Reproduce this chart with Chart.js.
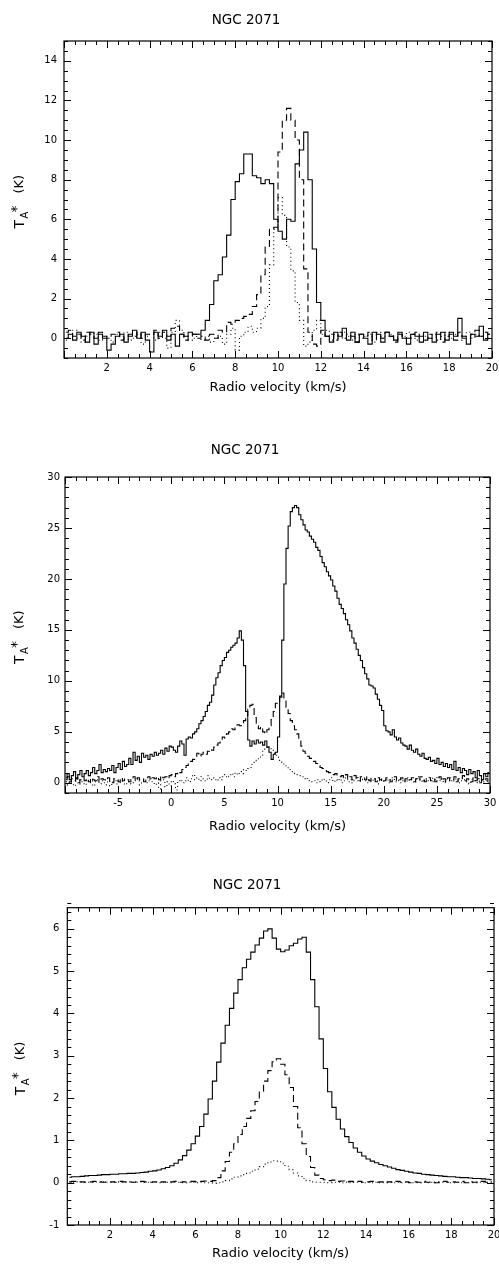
<!DOCTYPE html>
<html>
<head>
<meta charset="utf-8">
<script src="https://cdn.jsdelivr.net/npm/chart.js@4.4.1/dist/chart.umd.min.js"></script>
<style>
  html, body { margin: 0; padding: 0; background: #fff; }
  canvas { display: block; }
</style>
</head>
<body>
<canvas id="panel1" width="499" height="420"></canvas>
<canvas id="panel2" width="499" height="420"></canvas>
<canvas id="panel3" width="499" height="430"></canvas>
<script>
// ---- data ----
// panel 1: channels start at 0.1 km/s, 0.2 km/s wide
const p1Start = 0.1, p1Step = 0.2;
const p1XTicks = [2, 4, 6, 8, 10, 12, 14, 16, 18, 20];
const p1YTicks = [0, 2, 4, 6, 8, 10, 12, 14];
const p1Solid = [
  0.0, 0.2, -0.1, 0.3, 0.1, -0.2, 0.3, -0.3, 0.2, 0.0,
  -0.6, -0.3, 0.1, 0.2, -0.2, 0.1, 0.4, 0.0, 0.3, -0.1,
  -0.7, 0.3, 0.1, 0.4, -0.1, 0.2, -0.4, 0.2, 0.1, 0.3,
  0.2, 0.2, 0.4, 0.9, 1.7, 2.9, 3.2, 4.1, 5.2, 7.0,
  7.9, 8.3, 9.3, 9.3, 8.2, 8.1, 7.8, 8.0, 7.8, 6.0,
  5.4, 5.0, 6.0, 5.9, 8.8, 9.5, 10.4, 8.0, 4.5, 1.8,
  0.9, 0.1, -0.2, 0.3, 0.1, 0.5, -0.1, 0.3, -0.2, 0.2,
  0.0, -0.3, 0.3, 0.2, -0.2, 0.3, 0.1, -0.1, 0.3, 0.0,
  -0.3, 0.2, 0.1, -0.2, 0.3, 0.0, -0.2, 0.2, 0.3, -0.1,
  0.3, 0.1, 1.0, 0.0, -0.3, 0.2, 0.1, 0.6, -0.1, 0.2
];
const p1Dashed = [
  0.3, 0.4, 0.1, 0.2, -0.1, 0.3, 0.2, 0.0, 0.3, 0.1,
  0.0, 0.2, 0.3, -0.1, 0.1, 0.2, 0.1, 0.3, 0.0, 0.2,
  0.2, 0.4, 0.0, 0.3, 0.1, 0.5, 0.6, 0.2, -0.1, 0.1,
  0.2, 0.0, 0.1, -0.1, 0.2, 0.0, 0.4, 0.3, 0.8, 0.7,
  0.9, 1.0, 1.1, 1.2, 1.6, 2.2, 3.2, 4.6, 5.5, 5.6,
  9.4, 11.0, 11.6, 11.0, 10.0, 8.0, 3.5, 0.3, -0.3, -0.4,
  0.4, 0.1, 0.2, -0.1, 0.3, 0.0, 0.2, 0.1, -0.2, 0.2,
  0.1, 0.3, -0.1, 0.2, 0.0, 0.3, 0.1, -0.2, 0.2, 0.1,
  0.0, 0.2, 0.3, 0.1, -0.1, 0.2, 0.0, 0.3, -0.2, 0.1,
  0.2, -0.1, 0.3, 0.1, 0.0, 0.2, 0.4, 0.1, 0.3, 0.2
];
const p1Dotted = [
  -0.1, 0.2, 0.4, 0.0, -0.2, 0.1, 0.3, 0.2, -0.1, 0.1,
  0.0, -0.2, 0.2, 0.1, 0.3, -0.1, 0.0, 0.2, -0.3, 0.1,
  0.2, -0.1, 0.3, 0.0, -0.5, 0.3, 0.9, 0.4, 0.1, -0.1,
  0.0, 0.2, -0.1, 0.1, -0.2, 0.0, 0.1, -0.3, 0.2, 0.5,
  -0.6, 0.1, 0.3, 0.6, 0.3, 0.5, 1.0, 1.6, 3.7, 5.5,
  7.1, 6.2, 4.6, 3.4, 1.8, 0.9, -0.4, -0.2, 0.4, 0.9,
  0.2, 0.4, -0.1, 0.2, 0.0, 0.3, 0.1, -0.1, 0.2, 0.0,
  0.1, 0.2, -0.2, 0.3, 0.0, 0.1, 0.2, -0.1, 0.2, 0.1,
  0.3, 0.0, -0.1, 0.2, 0.1, 0.0, 0.2, -0.1, 0.1, 0.3,
  0.0, 0.2, -0.1, 0.1, 0.3, 0.0, 0.2, 0.1, 0.3, 0.0
];

// panel 2: channels start at -9.9 km/s, 0.2 km/s wide
const p2Start = -9.9, p2Step = 0.2;
const p2XTicks = [-5, 0, 5, 10, 15, 20, 25, 30];
const p2YTicks = [0, 5, 10, 15, 20, 25, 30];
const p2Solid = [
  0.5, 0.9, 0.3, 0.7, 1.1, 0.4, 0.8, 1.2, 0.6, 0.9,
  1.2, 0.7, 1.0, 1.5, 0.9, 1.2, 1.8, 1.0, 1.3, 1.1,
  1.4, 1.2, 1.7, 1.0, 1.5, 1.9, 1.3, 2.1, 1.6, 1.8,
  2.4, 1.8, 3.0, 2.2, 2.6, 2.0, 2.9, 2.5, 2.7, 2.3,
  2.8, 2.6, 3.0, 2.7, 2.9, 3.2, 2.8, 3.4, 3.1, 3.6,
  3.5, 3.2, 3.0, 3.6, 4.1, 3.8, 2.7, 4.3, 4.5, 4.4,
  4.8, 5.0, 5.3, 5.8, 6.1, 6.5, 7.0, 7.6, 7.9, 8.6,
  9.6, 10.3, 10.8, 11.5, 12.0, 12.3, 12.8, 13.0, 13.3, 13.5,
  13.7, 14.2, 14.9, 14.0, 11.5, 7.0, 4.2, 3.6, 4.1, 3.8,
  4.2, 3.9, 4.0, 3.7, 4.1, 3.5, 3.0, 2.3, 2.8, 3.0,
  4.5, 8.5, 14.0, 19.5, 23.0, 25.2, 26.6, 27.0, 27.2, 27.0,
  26.3, 25.8, 25.3, 24.8, 24.6, 24.2, 23.9, 23.6, 23.1, 22.8,
  22.2, 21.6, 21.2, 20.7, 20.3, 19.9, 19.3, 18.8, 18.1, 17.5,
  17.1, 16.6, 16.0, 15.5, 14.9, 14.2, 13.7, 13.1, 12.5, 12.0,
  11.3, 10.7, 10.2, 9.6, 9.5, 9.3, 8.7, 8.2, 7.6, 7.1,
  5.6, 5.1, 5.0, 4.7, 5.2, 4.5, 4.2, 4.4, 3.9, 3.7,
  3.6, 3.3, 3.7, 3.2, 3.0, 3.3, 2.8, 2.6, 2.9, 2.4,
  2.3, 2.5, 2.1, 2.2, 1.9, 2.4, 1.8, 2.0, 1.6, 1.9,
  1.5, 1.8, 1.3, 2.1, 1.2, 1.5, 1.0, 1.4, 1.2, 0.8,
  1.3, 0.9, 1.1, 0.5, 1.2, 0.7, 0.3, 0.9, 0.6, 1.0
];
const p2Dashed = [
  0.3, 0.6, 0.1, 0.4, 0.2, 0.5, 0.0, 0.3, 0.5, 0.2,
  0.4, 0.1, 0.5, 0.3, 0.2, 0.6, 0.1, 0.4, 0.3, 0.2,
  0.5, 0.2, 0.0, 0.4, 0.3, 0.1, 0.5, 0.2, 0.4, 0.3,
  0.1, 0.4, 0.6, 0.2, 0.5, 0.3, 0.4, 0.1, 0.5, 0.6,
  0.3, 0.5, 0.4, 0.6, 0.3, 0.7, 0.5, 0.6, 0.4, 0.7,
  0.8, 0.6, 0.9, 1.1, 1.0, 1.3, 1.5, 1.7, 1.9, 2.1,
  2.3, 2.6, 2.9, 2.6, 2.8, 3.0, 2.8, 3.1, 3.3, 3.2,
  3.5, 3.7, 3.9, 4.1, 4.5, 4.4, 4.8, 5.0, 5.3, 5.2,
  5.5, 5.7, 5.6, 5.9, 6.1, 6.6, 7.2, 7.6, 7.7, 6.4,
  5.6, 5.3, 5.5, 5.0, 4.8, 5.2, 5.6, 6.2, 7.0, 7.8,
  8.0, 8.4, 8.8, 8.2, 7.4, 6.8, 6.1, 5.6, 5.2, 4.8,
  4.1, 3.6, 3.1, 2.9, 2.6, 2.4, 2.2, 2.1, 1.9, 1.7,
  1.5, 1.4, 1.3, 1.1, 1.0, 0.9, 0.8, 0.9, 0.7, 0.6,
  0.7, 0.5, 0.8, 0.4, 0.6, 0.3, 0.7, 0.5, 0.2, 0.6,
  0.4, 0.3, 0.6, 0.2, 0.5, 0.4, 0.1, 0.5, 0.3, 0.4,
  0.2, 0.5, 0.3, 0.1, 0.4, 0.6, 0.2, 0.3, 0.5, 0.1,
  0.4, 0.2, 0.3, 0.5, 0.1, 0.4, 0.2, 0.6, 0.3, 0.1,
  0.3, 0.5, 0.2, 0.4, 0.1, 0.3, 0.6, 0.2, 0.4, 0.1,
  0.5, 0.2, 0.3, 0.6, 0.1, 0.4, 0.3, 0.7, 0.2, 0.4,
  0.3, 0.1, 0.5, 0.2, 0.4, 0.0, 0.3, 0.2, 0.4, 0.1
];
const p2Dotted = [
  0.1, -0.2, 0.3, 0.0, -0.3, 0.2, 0.4, -0.1, 0.1, -0.2,
  0.3, 0.0, 0.2, -0.3, 0.1, 0.3, -0.1, 0.2, 0.0, -0.2,
  0.2, -0.3, 0.1, 0.4, -0.1, 0.2, 0.0, 0.3, -0.2, 0.1,
  0.3, -0.1, 0.0, 0.2, 0.4, -0.2, 0.1, 0.3, 0.0, 0.2,
  0.4, 0.1, -0.2, 0.0, -0.6, 0.2, 0.3, -0.4, 0.1, -0.3,
  0.2, -0.1, -0.7, 0.1, 0.3, 0.0, 0.2, 0.5, 0.1, 0.4,
  0.8, 0.3, 0.5, 0.2, 0.6, 0.4, 0.2, 0.7, 0.3, 0.5,
  0.4, 0.2, 0.5, 0.3, 0.6, 0.8, 0.5, 0.7, 0.9, 0.6,
  1.0, 0.8, 1.1, 0.9, 1.3, 1.2, 1.4, 1.5, 1.8, 2.0,
  2.2, 2.5, 2.7, 3.1, 3.3, 3.6, 3.5, 3.2, 2.9, 2.7,
  2.5, 2.2, 2.0, 1.8, 1.6, 1.4, 1.2, 1.1, 0.9, 0.8,
  0.7, 0.6, 0.4, 0.5, 0.3, 0.2, 0.1, 0.2, 0.0, 0.3,
  0.1, 0.4, 0.2, 0.0, 0.3, 0.5, 0.1, 0.3, 0.2, 0.4,
  0.0, 0.2, 0.5, 0.1, 0.3, 0.0, 0.4, 0.2, 0.1, 0.3,
  0.5, 0.2, 0.0, 0.3, 0.1, 0.4, 0.2, -0.1, 0.3, 0.1,
  0.2, 0.4, 0.0, 0.3, 0.5, 0.1, 0.2, 0.4, 0.0, 0.3,
  0.1, 0.5, 0.2, 0.3, 0.0, 0.4, 0.6, 0.2, 0.1, 0.3,
  0.4, 0.2, 0.5, 0.1, 0.3, 0.6, 0.2, 0.4, 0.0, 0.3,
  0.2, 0.5, 0.1, 0.3, 0.4, 0.0, 0.2, 0.5, 0.1, 0.3,
  -0.1, 0.3, 0.2, 0.4, 0.0, 0.2, 0.3, 0.1, 0.2, 0.0
];

// panel 3: channels start at 0.1 km/s, 0.2 km/s wide
const p3Start = 0.1, p3Step = 0.2;
const p3XTicks = [2, 4, 6, 8, 10, 12, 14, 16, 18, 20];
const p3YTicks = [-1, 0, 1, 2, 3, 4, 5, 6];
const p3Solid = [
  0.13, 0.14, 0.14, 0.15, 0.16, 0.17, 0.17, 0.18, 0.19, 0.19,
  0.20, 0.20, 0.21, 0.21, 0.22, 0.22, 0.23, 0.24, 0.25, 0.27,
  0.28, 0.30, 0.33, 0.36, 0.40, 0.46, 0.54, 0.64, 0.77, 0.92,
  1.10, 1.33, 1.62, 1.98, 2.40, 2.85, 3.30, 3.72, 4.12, 4.48,
  4.80, 5.08, 5.28, 5.45, 5.62, 5.78, 5.95, 6.00, 5.78, 5.52,
  5.46, 5.50, 5.60, 5.66, 5.76, 5.80, 5.45, 4.80, 4.16, 3.40,
  2.70, 2.15, 1.78, 1.50, 1.27, 1.09, 0.95, 0.82, 0.72, 0.63,
  0.56, 0.51, 0.47, 0.43, 0.40, 0.37, 0.34, 0.31, 0.29, 0.27,
  0.25, 0.23, 0.22, 0.20, 0.19, 0.18, 0.17, 0.16, 0.15, 0.14,
  0.14, 0.13, 0.12, 0.12, 0.11, 0.10, 0.10, 0.09, 0.08, 0.07
];
const p3Dashed = [
  0.02, 0.03, 0.02, 0.02, 0.01, 0.02, 0.03, 0.02, 0.01, 0.02,
  0.02, 0.01, 0.03, 0.02, 0.02, 0.01, 0.02, 0.03, 0.02, 0.01,
  0.02, 0.01, 0.02, 0.01, 0.02, 0.03, 0.01, 0.02, 0.02, 0.03,
  0.02, 0.03, 0.04, 0.03, 0.05, 0.12, 0.28, 0.50, 0.72, 0.92,
  1.14, 1.33, 1.52, 1.70, 1.92, 2.16, 2.40, 2.65, 2.86, 2.93,
  2.80, 2.55, 2.25, 1.80, 1.30, 0.92, 0.62, 0.36, 0.18, 0.10,
  0.07, 0.05, 0.06, 0.03, 0.04, 0.02, 0.03, 0.02, 0.03, 0.01,
  0.02, 0.03, 0.01, 0.02, 0.00, 0.02, 0.01, 0.03, 0.01, 0.02,
  0.00, 0.02, 0.01, 0.03, 0.01, 0.02, 0.00, 0.02, 0.03, 0.01,
  0.02, 0.01, 0.03, 0.00, 0.02, 0.01, 0.02, 0.03, 0.01, 0.02
];
const p3Dotted = [
  0.02, 0.01, 0.02, 0.02, 0.01, 0.01, 0.02, 0.01, 0.02, 0.01,
  0.01, 0.02, 0.01, 0.01, 0.02, 0.01, 0.01, 0.02, 0.01, 0.01,
  0.01, 0.00, 0.01, 0.01, 0.00, 0.01, 0.01, 0.00, 0.01, 0.01,
  0.00, 0.01, 0.00, 0.00, -0.01, 0.00, 0.02, 0.05, 0.09, 0.13,
  0.16, 0.19, 0.23, 0.27, 0.32, 0.38, 0.44, 0.49, 0.52, 0.51,
  0.46, 0.39, 0.31, 0.23, 0.16, 0.10, 0.05, 0.02, 0.01, 0.01,
  0.01, 0.00, 0.01, 0.01, 0.00, 0.01, 0.00, 0.01, 0.01, 0.00,
  0.01, 0.00, 0.01, 0.00, 0.01, 0.01, 0.00, 0.01, 0.00, 0.01,
  0.01, 0.00, 0.00, 0.01, 0.00, 0.01, 0.00, 0.00, 0.01, 0.00,
  0.00, 0.01, 0.00, 0.01, 0.00, 0.00, 0.01, 0.00, 0.01, 0.00
];

const FONT = 'DejaVu Sans';

// pair each channel value with its velocity
function toPoints(start, step, values) {
  return values.map((v, i) => ({ x: +(start + i * step).toFixed(3), y: v }));
}

function lineSet(points, dash) {
  return {
    data: points,
    borderColor: '#000',
    borderWidth: 1.1,
    borderDash: dash,
    stepped: 'middle',
    pointRadius: 0,
    fill: false
  };
}

// box round the plot with inward ticks on all four sides (IDL style)
const framePlugin = {
  id: 'frame',
  afterDatasetsDraw(chart, args, opts) {
    const { ctx, chartArea: a } = chart;
    const xs = chart.scales.x, ys = chart.scales.y;
    ctx.save();
    ctx.strokeStyle = '#000';
    ctx.lineWidth = 1.2;
    ctx.strokeRect(a.left, a.top, a.right - a.left, a.bottom - a.top);
    ctx.lineWidth = 1;
    ctx.beginPath();
    let n = Math.round((xs.max - xs.min) / opts.xMinor);
    for (let i = 0; i <= n; i++) {
      const v = xs.min + i * opts.xMinor;
      const big = Math.abs(v / opts.xMajor - Math.round(v / opts.xMajor)) < 1e-6;
      const len = big ? 7 : 4;
      const px = Math.round(xs.getPixelForValue(v)) + 0.5;
      ctx.moveTo(px, a.bottom); ctx.lineTo(px, a.bottom - len);
      ctx.moveTo(px, a.top); ctx.lineTo(px, a.top + len);
    }
    n = Math.round((ys.max - ys.min) / opts.yMinor);
    for (let i = 0; i <= n; i++) {
      const v = ys.min + i * opts.yMinor;
      const big = Math.abs(v / opts.yMajor - Math.round(v / opts.yMajor)) < 1e-6;
      const len = big ? 7 : 4;
      const py = Math.round(ys.getPixelForValue(v)) + 0.5;
      ctx.moveTo(a.left, py); ctx.lineTo(a.left + len, py);
      ctx.moveTo(a.right, py); ctx.lineTo(a.right - len, py);
    }
    ctx.stroke();
    ctx.restore();
  },
  // rotated y title: T with subscript A and a star, then (K)
  afterDraw(chart, args, opts) {
    const { ctx, chartArea: a } = chart;
    ctx.save();
    ctx.translate(opts.labelX, (a.top + a.bottom) / 2);
    ctx.rotate(-Math.PI / 2);
    ctx.fillStyle = '#000';
    ctx.textBaseline = 'middle';
    ctx.textAlign = 'left';
    ctx.font = '14px "' + FONT + '"';
    ctx.fillText('T', -29, 0);
    ctx.font = '10px "' + FONT + '"';
    ctx.fillText('A', -19, 5);
    ctx.font = '14px "' + FONT + '"';
    ctx.fillText('*', -13, -3);
    ctx.font = '13px "' + FONT + '"';
    ctx.fillText('(K)', 6, 0);
    ctx.restore();
  }
};

function makePanel(id, p) {
  new Chart(document.getElementById(id), {
    type: 'line',
    data: {
      datasets: [
        lineSet(toPoints(p.start, p.step, p.solid), []),
        lineSet(toPoints(p.start, p.step, p.dashed), [7, 4]),
        lineSet(toPoints(p.start, p.step, p.dotted), [1, 3])
      ]
    },
    options: {
      responsive: false,
      animation: false,
      devicePixelRatio: 1,
      layout: { padding: { left: 0, right: p.padRight, top: 0, bottom: p.padBottom } },
      plugins: {
        legend: { display: false },
        tooltip: { enabled: false },
        title: {
          display: true,
          text: 'NGC 2071',
          color: '#000',
          font: { family: FONT, size: 13.5, weight: 'normal' },
          padding: { top: p.titleTop, bottom: p.titleBottom }
        },
        frame: { xMinor: p.xMinor, xMajor: p.xMajor, yMinor: p.yMinor, yMajor: p.yMajor, labelX: p.labelX }
      },
      scales: {
        x: {
          type: 'linear',
          min: p.xMin,
          max: p.xMax,
          grid: { display: false, drawTicks: false },
          border: { display: false },
          ticks: { color: '#000', font: { family: FONT, size: 10 }, padding: 4, maxRotation: 0, autoSkip: false },
          afterBuildTicks: s => { s.ticks = p.xTicks.map(v => ({ value: v })); },
          afterFit: s => { s.height = p.xHeight; s.paddingLeft = 0; s.paddingRight = 0; },
          title: {
            display: true,
            text: 'Radio velocity (km/s)',
            color: '#000',
            font: { family: FONT, size: 13 },
            padding: 0
          }
        },
        y: {
          type: 'linear',
          min: p.yMin,
          max: p.yMax,
          grid: { display: false, drawTicks: false },
          border: { display: false },
          ticks: { color: '#000', font: { family: FONT, size: 10 }, padding: p.yPad, autoSkip: false },
          afterBuildTicks: s => { s.ticks = p.yTicks.map(v => ({ value: v })); },
          afterFit: s => { s.width = p.yWidth; s.paddingTop = 0; s.paddingBottom = 0; }
        }
      }
    },
    plugins: [framePlugin]
  });
}

makePanel('panel1', {
  start: p1Start, step: p1Step, solid: p1Solid, dashed: p1Dashed, dotted: p1Dotted,
  xTicks: p1XTicks, yTicks: p1YTicks,
  xMin: 0, xMax: 20, yMin: -1, yMax: 15,
  xMajor: 2, xMinor: 0.5, yMajor: 2, yMinor: 0.5,
  padRight: 7, padBottom: 24.2, titleTop: 12, titleBottom: 12.8,
  xHeight: 37.8, yWidth: 64, yPad: 7, labelX: 20
});

makePanel('panel2', {
  start: p2Start, step: p2Step, solid: p2Solid, dashed: p2Dashed, dotted: p2Dotted,
  xTicks: p2XTicks, yTicks: p2YTicks,
  xMin: -10, xMax: 30, yMin: -1, yMax: 30,
  xMajor: 5, xMinor: 1, yMajor: 5, yMinor: 1,
  padRight: 9, padBottom: 5.2, titleTop: 22, titleBottom: 18.8,
  xHeight: 41.8, yWidth: 65, yPad: 5, labelX: 20
});

makePanel('panel3', {
  start: p3Start, step: p3Step, solid: p3Solid, dashed: p3Dashed, dotted: p3Dotted,
  xTicks: p3XTicks, yTicks: p3YTicks,
  xMin: 0, xMax: 20, yMin: -1, yMax: 6.5,
  xMajor: 2, xMinor: 0.5, yMajor: 1, yMinor: 0.2,
  padRight: 5, padBottom: 8.2, titleTop: 37.7, titleBottom: 13.8,
  xHeight: 36.8, yWidth: 67.3, yPad: 8, labelX: 21
});
</script>
</body>
</html>
